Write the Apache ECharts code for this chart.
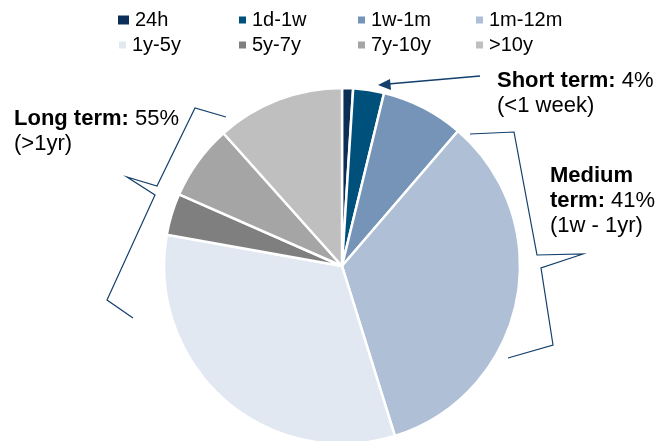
<!DOCTYPE html>
<html>
<head>
<meta charset="utf-8">
<script src="https://cdn.jsdelivr.net/npm/echarts@6/dist/echarts.min.js"></script>
<style>
html,body{margin:0;padding:0;background:#fff;}
#chart{width:667px;height:441px;}
</style>
</head>
<body>
<div id="chart"></div>
<script>
var categories = ['24h', '1d-1w', '1w-1m', '1m-12m', '1y-5y', '5y-7y', '7y-10y', '>10y'];
var values = [1.0, 2.8, 7.5, 33.9, 32.6, 3.8, 6.8, 11.6];
var colors = ['#0c2f57', '#00507c', '#7594b7', '#aebfd6', '#e2e8f1', '#7f7f7f', '#a5a5a5', '#bfbfbf'];

var FONT = '"Liberation Sans", Arial, sans-serif';
var legendPos = [
  [116, 10, 13, 11], [237, 10, 9, 9], [356, 10, 9, 9], [474, 10, 9, 9],
  [117, 35, 9, 9], [237, 35, 9, 9], [356, 35, 9, 9], [474, 35, 9, 9]
];
var legends = categories.map(function (c, i) {
  var p = legendPos[i];
  return {
    data: [c], left: p[0], top: p[1], itemWidth: p[2], itemHeight: p[3],
    padding: 0, icon: 'rect', selectedMode: false,
    textStyle: { fontSize: 20, fontFamily: FONT, color: '#000' }
  };
});

var BR = '#123f6b';
function annot(x, y, text) {
  return {
    type: 'text', left: x, top: y,
    style: {
      text: text, font: '22px ' + FONT, fill: '#000', lineHeight: 25,
      rich: { b: { fontWeight: 'bold', fontSize: 22, fontFamily: FONT, fill: '#000', lineHeight: 25 },
              r: { fontSize: 22, fontFamily: FONT, fill: '#000', lineHeight: 25 } }
    }
  };
}

var chart = echarts.init(document.getElementById('chart'), null, { renderer: 'canvas' });
chart.setOption({
  animation: false,
  backgroundColor: '#fff',
  legend: legends,
  series: [{
    type: 'pie',
    center: [342, 266],
    radius: 178,
    startAngle: 90,
    clockwise: true,
    label: { show: false },
    labelLine: { show: false },
    emphasis: { disabled: true },
    itemStyle: { borderColor: '#fff', borderWidth: 2.5 },
    data: categories.map(function (c, i) {
      return { name: c, value: values[i], itemStyle: { color: colors[i] } };
    })
  }],
  graphic: [
    annot(497, 68, '{b|Short term:}{r| 4%}\n{r|(<1 week)}'),
    annot(550, 163, '{b|Medium}\n{b|term:}{r| 41%}\n{r|(1w - 1yr)}'),
    annot(14, 106, '{b|Long term:}{r| 55%}\n{r|(>1yr)}'),
    { type: 'polyline', shape: { points: [[226,117],[195,108],[157,186],[127,177],[155,195],[107,300],[133,318]] },
      style: { stroke: BR, lineWidth: 1.2, fill: null } },
    { type: 'polyline', shape: { points: [[470,134],[514,132],[537,255],[583,254],[541,268],[553,345],[508,358]] },
      style: { stroke: BR, lineWidth: 1.2, fill: null } },
    { type: 'line', shape: { x1: 480, y1: 76, x2: 388, y2: 84 }, style: { stroke: BR, lineWidth: 1.3 } },
    { type: 'polygon', shape: { points: [[378,85],[390,79],[391,90]] }, style: { fill: BR } }
  ]
});
</script>
</body>
</html>
